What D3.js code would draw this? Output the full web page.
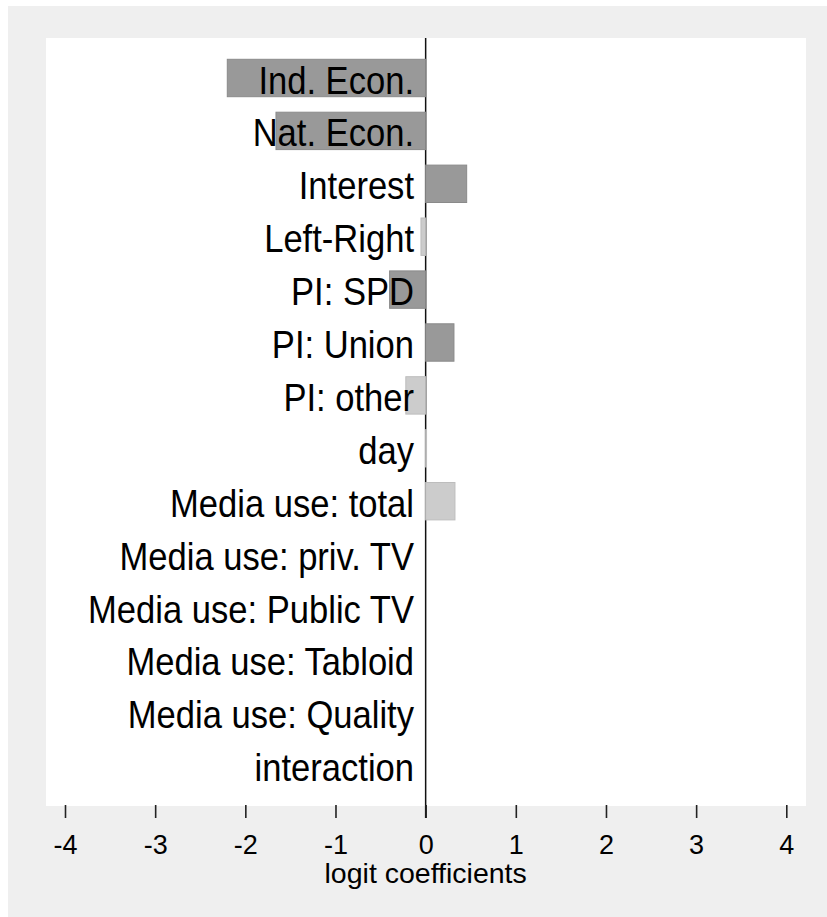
<!DOCTYPE html>
<html>
<head>
<meta charset="utf-8">
<script src="https://cdn.jsdelivr.net/npm/d3@7"></script>
<style>
  html, body { margin: 0; padding: 0; background: #ffffff; }
  svg { display: block; }
</style>
</head>
<body>
<svg id="chart" width="827" height="917"></svg>
<script>
// Logit coefficients per predictor
const categories = [
  "Ind. Econ.", "Nat. Econ.", "Interest", "Left-Right", "PI: SPD",
  "PI: Union", "PI: other", "day", "Media use: total",
  "Media use: priv. TV", "Media use: Public TV", "Media use: Tabloid",
  "Media use: Quality", "interaction"
];
const coefficients = [-2.20, -1.66, 0.455, -0.052, -0.40, 0.314, -0.22, 0.01, 0.325, 0, 0, 0, 0, 0];
// dark bars = significant effects, light bars = not significant
const significant = [true, true, true, false, true, true, false, false, false, false, false, false, false, false];
const xTicks = [-4, -3, -2, -1, 0, 1, 2, 3, 4];

const rows = categories.map((c, i) => ({ name: c, value: coefficients[i], sig: significant[i] }));

const svg = d3.select("#chart");
const W = 827, H = 917;

// outer panel
svg.append("rect").attr("x", 8).attr("y", 6).attr("width", W - 8).attr("height", H - 6)
  .attr("fill", "#efefef");

// plot region
const plot = { left: 46, right: 806, top: 38, bottom: 806 };
svg.append("rect")
  .attr("x", plot.left).attr("y", plot.top)
  .attr("width", plot.right - plot.left).attr("height", plot.bottom - plot.top)
  .attr("fill", "#ffffff");

const x = d3.scaleLinear().domain([-4, 4]).range([65, 786.3]);
const step = 52.9;
const y = d3.scaleBand()
  .domain(categories)
  .range([78 - step / 2, 78 - step / 2 + step * categories.length])
  .paddingInner(0.293)
  .paddingOuter(0.1465);

// zero reference line
svg.append("line")
  .attr("x1", x(0)).attr("x2", x(0))
  .attr("y1", plot.top).attr("y2", 818)
  .attr("stroke", "#111").attr("stroke-width", 1.5);

// bars
svg.append("g").selectAll("rect")
  .data(rows.filter(d => d.value !== 0))
  .join("rect")
  .attr("x", d => x(Math.min(0, d.value)))
  .attr("width", d => Math.abs(x(d.value) - x(0)))
  .attr("y", d => y(d.name))
  .attr("height", y.bandwidth())
  .attr("fill", d => d.sig ? "#999999" : "#cccccc")
  .attr("stroke", d => d.sig ? "#8a8a8a" : "#bdbdbd")
  .attr("stroke-width", 1);

// category labels, drawn over the bars
svg.append("g").selectAll("text")
  .data(rows)
  .join("text")
  .attr("transform", d => `translate(414,${y(d.name) + y.bandwidth() / 2 + 15.5}) scale(0.875,1)`)
  .attr("text-anchor", "end")
  .attr("font-family", "Liberation Sans, Arial, sans-serif")
  .attr("font-size", 39.5)
  .attr("fill", "#000")
  .text(d => d.name);

// x axis
const xAxis = d3.axisBottom(x).tickValues(xTicks).tickSize(13).tickPadding(17)
  .tickFormat(d => String(d));
const ax = svg.append("g").attr("transform", `translate(0,${805})`).call(xAxis);
ax.select(".domain").remove();
ax.selectAll(".tick line").attr("stroke", "#222").attr("stroke-width", 1.6);
ax.selectAll(".tick text")
  .attr("font-family", "Liberation Sans, Arial, sans-serif")
  .attr("font-size", 27)
  .attr("fill", "#000")
  .attr("dy", "0.71em");

svg.append("text")
  .attr("x", x(0)).attr("y", 883.3)
  .attr("text-anchor", "middle")
  .attr("font-family", "Liberation Sans, Arial, sans-serif")
  .attr("font-size", 28.5)
  .attr("fill", "#000")
  .text("logit coefficients");
</script>
</body>
</html>
